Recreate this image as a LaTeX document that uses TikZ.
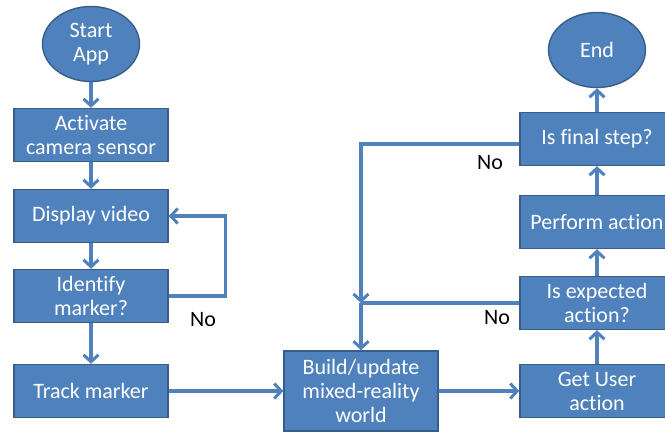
\documentclass[tikz,border=0pt]{standalone}
\usepackage{fontspec}
\setmainfont{Carlito}[Ligatures={NoCommon}]
\usetikzlibrary{arrows.meta,shapes.geometric}
\definecolor{boxblue}{HTML}{4F81BD}
\definecolor{boxedge}{HTML}{385D8A}
\tikzset{
  stepnode/.style={draw=boxedge, line width=1.4pt, fill=boxblue, text=white,
    minimum width=154pt, minimum height=53pt, align=center, inner sep=1pt,
    font=\fontsize{22}{24}\selectfont},
  termnode/.style={stepnode, ellipse, minimum width=97pt, minimum height=75pt},
  flow/.style={boxblue, line width=3.3pt,
    -{Straight Barb[length=7pt,width=15pt,line width=3pt]}},
  link/.style={boxblue, line width=3.3pt},
  nolabel/.style={font=\fontsize{22}{24}\selectfont}
}
\begin{document}
\begin{tikzpicture}[x=1pt,y=-1pt]
  \clip (0,0) rectangle (665,432);
  % left column
  \node[termnode] (start) at (91,44) {Start\\App};
  \node[stepnode] (camera) at (91,135) {Activate\\camera sensor};
  \node[stepnode] (display) at (91,216) {Display video};
  \node[stepnode] (identify) at (91,296) {Identify\\marker?};
  \node[stepnode] (track) at (91,391) {Track marker};
  % middle
  \node[stepnode, minimum height=80pt] (build) at (361,391) {Build/update\\mixed-reality\\world};
  % right column
  \node[stepnode] (getuser) at (597,391) {Get User\\action};
  \node[stepnode] (expected) at (597,303) {Is expected\\action?};
  \node[stepnode] (perform) at (597,222) {Perform action};
  \node[stepnode] (final) at (597,139) {Is final step?};
  \node[termnode] (end) at (597,50) {End};
  \coordinate (merge) at (build.north |- expected.west);
  % connectors
  \draw[flow] (start) -- (camera);
  \draw[flow] (camera) -- (display);
  \draw[flow] (display) -- (identify);
  \draw[flow] (identify) -- (track);
  \draw[flow] (identify.east) -- ++(57,0) |- (display.east);
  \draw[flow] (track) -- (build);
  \draw[flow] (build) -- (getuser);
  \draw[flow] (getuser) -- (expected);
  \draw[flow] (expected) -- (perform);
  \draw[flow] (perform) -- (final);
  \draw[flow] (final) -- (end);
  \draw[flow] ([yshift=-5pt]final.west) -| (merge);
  \draw[link] (expected.west) -- (merge);
  \draw[flow] (merge) -- (build);
  % labels
  \node[nolabel] (noloop) at (203,320) {No};
  \node[nolabel] (nofinal) at (490,163) {No};
  \node[nolabel] (noexpected) at (497,318) {No};
\end{tikzpicture}
\end{document}
